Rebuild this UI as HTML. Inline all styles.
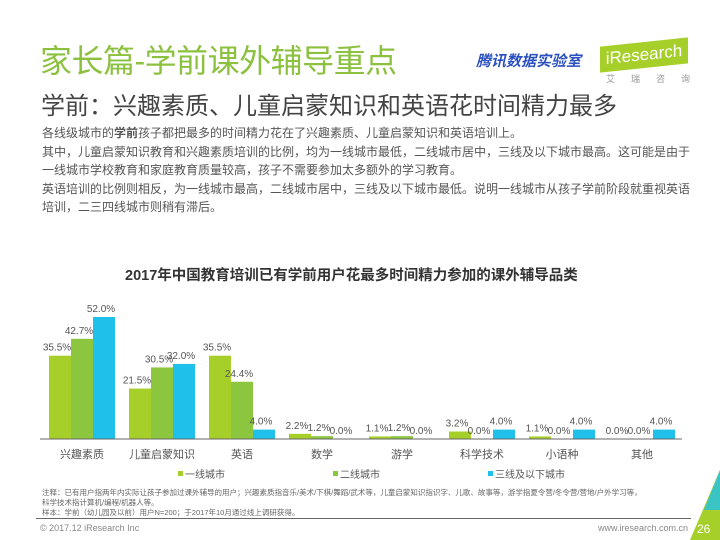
<!DOCTYPE html>
<html><head><meta charset="utf-8"><style>
body{margin:0;width:720px;height:540px;background:#fff;overflow:hidden;font-family:"Liberation Sans","Noto Sans CJK SC",sans-serif;position:relative}
.a{position:absolute;white-space:nowrap}
</style></head><body>
<div class="a" style="left:40px;top:36px;font-size:32px;color:#8cc13f;letter-spacing:-0.5px">家长篇-学前课外辅导重点</div>
<div class="a" style="left:476px;top:50px;font-size:15px;font-weight:bold;font-style:italic;color:#2a4fbf">腾讯数据实验室</div>
<div class="a" style="left:600px;top:42px;width:88px;height:26px;background:#a6cf2a;transform:skewY(-6deg);color:#fff;font-size:17px;line-height:26px;text-align:center">iResearch</div>
<div class="a" style="left:606px;top:72px;font-size:9px;color:#999;letter-spacing:16px">艾瑞咨询</div>
<div class="a" style="left:41px;top:86px;font-size:24px;color:#444">学前：兴趣素质、儿童启蒙知识和英语花时间精力最多</div>
<div class="a" style="left:42px;top:124px;font-size:12px;line-height:18.5px;color:#555;white-space:normal;width:650px">各线级城市的<b>学前</b>孩子都把最多的时间精力花在了兴趣素质、儿童启蒙知识和英语培训上。<br>其中，儿童启蒙知识教育和兴趣素质培训的比例，均为一线城市最低，二线城市居中，三线及以下城市最高。这可能是由于一线城市学校教育和家庭教育质量较高，孩子不需要参加太多额外的学习教育。<br>英语培训的比例则相反，为一线城市最高，二线城市居中，三线及以下城市最低。说明一线城市从孩子学前阶段就重视英语培训，二三四线城市则稍有滞后。</div>
<div class="a" style="left:125px;top:264px;font-size:14.5px;font-weight:bold;color:#333">2017年中国教育培训已有学前用户花最多时间精力参加的课外辅导品类</div>
<svg class="a" id="chart" style="left:0;top:0" width="720" height="540"></svg>
<div class="a" style="left:42px;top:488px;font-size:7.5px;line-height:10px;color:#666">注释：已有用户指两年内实际让孩子参加过课外辅导的用户；兴趣素质指音乐/美术/下棋/舞蹈/武术等，儿童启蒙知识指识字、儿歌、故事等，游学指夏令营/冬令营/营地/户外学习等，<br>科学技术指计算机/编程/机器人等。<br>样本：学前（幼儿园及以前）用户N=200；于2017年10月通过线上调研获得。</div>
<div class="a" style="left:36px;top:518px;width:655px;height:1px;background:#666"></div>
<div class="a" style="left:40px;top:523px;font-size:9px;color:#888">© 2017.12 iResearch Inc</div>
<div class="a" style="left:598px;top:523px;font-size:9px;color:#888">www.iresearch.com.cn</div>
<svg class="a" style="left:690px;top:470px" width="30" height="70"><polygon points="30,0 30,70 0,70" fill="#a6cf2a"/><polygon points="30,0 30,40 14,40" fill="#1fc0ea" opacity="0.8"/></svg>
<div class="a" style="left:697px;top:522px;font-size:12px;color:#fff">26</div>
<script>
const categories=["兴趣素质","儿童启蒙知识","英语","数学","游学","科学技术","小语种","其他"];
const tier1=[35.5,21.5,35.5,2.2,1.1,3.2,1.1,0.0];
const tier2=[42.7,30.5,24.4,1.2,1.2,0.0,0.0,0.0];
const tier3=[52.0,32.0,4.0,0.0,0.0,4.0,4.0,4.0];
const seriesNames=["一线城市","二线城市","三线及以下城市"];
const colors=["#a6cf2a","#8cc63f","#1fc0ea"];
const svg=document.getElementById('chart');
const NS="http://www.w3.org/2000/svg";
const base=439, scale=122/52, x0=49, step=80, bw=22;
const y=v=>base-v*scale;
const x=(i,s)=>x0+i*step+s*bw;
function mk(t,a){const e=document.createElementNS(NS,t);for(const k in a)e.setAttribute(k,a[k]);svg.appendChild(e);return e;}
[tier1,tier2,tier3].forEach((ser,s)=>{
  ser.forEach((v,i)=>{
    const r=mk('rect',{x:x(i,s),y:y(v),width:bw,height:base-y(v),fill:colors[s]});
    
    
    const t=mk('text',{x:x(i,s)+bw/2-3,y:y(v)-5,'font-size':10,fill:'#555','text-anchor':'middle'});
    t.textContent=v.toFixed(1)+'%';
    
    
  });
});
const ax=mk('line',{x1:40,x2:682,y1:base,y2:base,stroke:'#666','stroke-width':1});


categories.forEach((c,i)=>{
  const t=mk('text',{x:x(i,1)+bw/2,y:base+19,'font-size':11,fill:'#555','text-anchor':'middle'});
  t.textContent=c;
  
  
});
const lx=[178,333,488];
seriesNames.forEach((n,s)=>{
  const r=mk('rect',{x:lx[s],y:471,width:5,height:5,fill:colors[s]});
  
  
  const t=mk('text',{x:lx[s]+7,y:478,'font-size':10,fill:'#555'});
  t.textContent=n;
  
  
});
</script>
</body></html>
